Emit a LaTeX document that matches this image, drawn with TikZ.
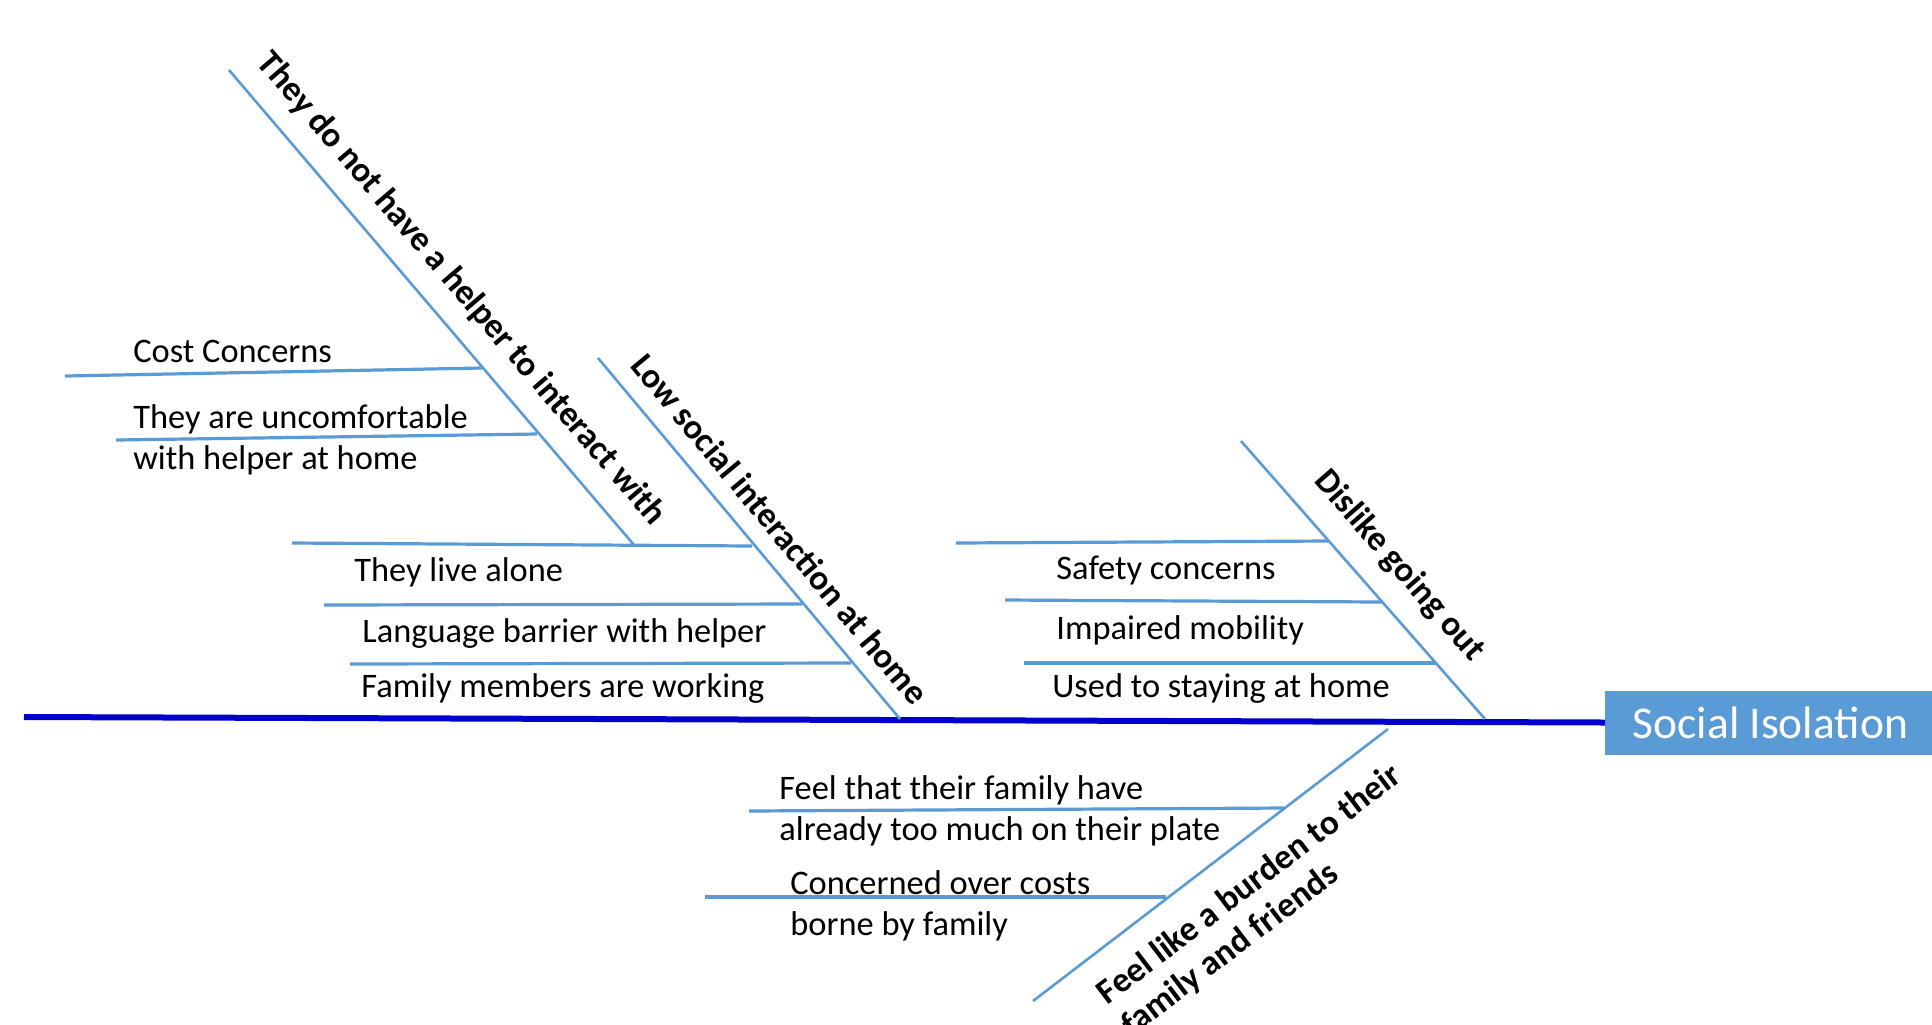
\documentclass[tikz,border=0pt]{standalone}
\usepackage{fontspec}
\setmainfont{Carlito}
\definecolor{spineblue}{HTML}{0000CC}
\definecolor{boneblue}{HTML}{5B9BD5}
\begin{document}
\begin{tikzpicture}[x=0.5pt,y=-0.5pt,
  spine/.style={draw=spineblue,line width=3pt},
  bone/.style={draw=boneblue,line width=1.3pt},
  rib/.style={draw=boneblue,line width=1.6pt},
  cause/.style={font=\fontsize{17.2}{20.5}\selectfont,inner sep=0pt,anchor=west,align=left},
  bonelabel/.style={font=\bfseries\fontsize{17.5}{20}\selectfont,inner sep=0pt,align=left}]
\clip (0,0) rectangle (1932,1024);
\fill[white] (0,0) rectangle (1932,1024);

% effect box
\node[fill=boneblue,text=white,font=\fontsize{22.75}{27}\selectfont,
      minimum height=32pt,minimum width=165pt,inner sep=0pt,anchor=west]
      (effect) at (1605,722.5) {Social Isolation};

% spine
\coordinate (head) at (24,717);
\draw[spine] (head) -- (effect.west);

% branch end points
\coordinate (b1s) at (229,70);   \coordinate (b1e) at (634,545);
\coordinate (b2s) at (598,358);  \coordinate (b2e) at (900,719);
\coordinate (b3s) at (1241,441); \coordinate (b3e) at (1485,719);
\coordinate (b4s) at (1388,729); \coordinate (b4e) at (1033,1001);

\draw[bone] (b1s) -- (b1e);
\draw[bone] (b2s) -- (b2e);
\draw[bone] (b3s) -- (b3e);
\draw[bone] (b4s) -- (b4e);

% branch labels
\node[bonelabel,rotate=-49.5] (l1) at (461,289) {They do not have a helper to interact with};
\node[bonelabel,rotate=-50.3] (l2) at (780,529) {Low social interaction at home};
\node[bonelabel,rotate=-48.8] (l3) at (1399,566) {Dislike going out};
\node[bonelabel,rotate=37.3] (l4) at (1262,901) {Feel like a burden to their\\family and friends};

% ribs of branch 1
\coordinate (r11a) at (65,376);  \coordinate (r11b) at (482,368);
\coordinate (r12a) at (116,440); \coordinate (r12b) at (537,434);
\draw[rib] (r11a) -- (r11b);
\draw[rib] (r12a) -- (r12b);
\node[cause] (c11) at (133,351.5) {Cost Concerns};
\node[cause] (c12) at (133,439.5) {They are uncomfortable\\with helper at home};

% ribs of branch 2
\coordinate (r21a) at (292,543); \coordinate (r21b) at (752,546);
\coordinate (r22a) at (324,605); \coordinate (r22b) at (802,604);
\coordinate (r23a) at (350,664); \coordinate (r23b) at (851,663);
\draw[rib] (r21a) -- (r21b);
\draw[rib] (r22a) -- (r22b);
\draw[rib] (r23a) -- (r23b);
\node[cause] (c21) at (354,572.5) {They live alone};
\node[cause] (c22) at (362,633.5) {Language barrier with helper};
\node[cause] (c23) at (361,688.5) {Family members are working};

% ribs of branch 3
\coordinate (r31a) at (956,543);  \coordinate (r31b) at (1328,541);
\coordinate (r32a) at (1005,600); \coordinate (r32b) at (1382,602);
\coordinate (r33a) at (1024,663); \coordinate (r33b) at (1435,663);
\draw[rib] (r31a) -- (r31b);
\draw[rib] (r32a) -- (r32b);
\draw[rib] (r33a) -- (r33b);
\node[cause] (c31) at (1056,570.5) {Safety concerns};
\node[cause] (c32) at (1056,630.5) {Impaired mobility};
\node[cause] (c33) at (1052,688.5) {Used to staying at home};

% ribs of branch 4
\coordinate (r41a) at (749,811); \coordinate (r41b) at (1284,808);
\coordinate (r42a) at (705,897); \coordinate (r42b) at (1166,897);
\draw[rib] (r41a) -- (r41b);
\draw[rib] (r42a) -- (r42b);
\node[cause] (c41) at (779,810.5) {Feel that their family have\\already too much on their plate};
\node[cause] (c42) at (790,905.5) {Concerned over costs\\borne by family};
\end{tikzpicture}
\end{document}
